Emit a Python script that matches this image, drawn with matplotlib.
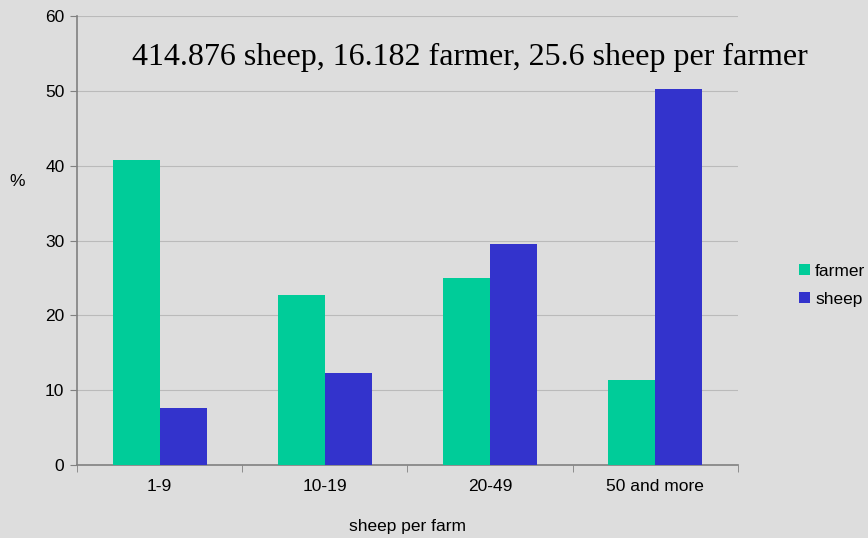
import numpy as np
import matplotlib.pyplot as plt

# data (percent)
categories = ['1-9', '10-19', '20-49', '50 and more']
farmer = [40.8, 22.7, 25.0, 11.3]
sheep = [7.6, 12.3, 29.6, 50.3]
y_ticks = [0, 10, 20, 30, 40, 50, 60]
title = '414.876 sheep, 16.182 farmer, 25.6 sheep per farmer'

bg = '#dddddd'
fig = plt.figure(figsize=(8.68, 5.38), dpi=100, facecolor=bg)
ax = fig.add_axes([0.0887, 0.1357, 0.7615, 0.8343])
ax.set_facecolor('none')

x = np.arange(len(categories)) + 0.5
w = 0.285
ax.bar(x - w / 2, farmer, w, color='#00cc99', label='farmer', zorder=3)
ax.bar(x + w / 2, sheep, w, color='#3333cc', label='sheep', zorder=3)

ax.set_xlim(0, len(categories))
ax.set_ylim(0, 60)
ax.set_yticks(y_ticks)
ax.set_xticks(x)
ax.set_xticklabels(categories)
ax.set_xticks(np.arange(len(categories) + 1), minor=True)
ax.tick_params(axis='x', which='major', length=0, pad=10)
ax.tick_params(axis='x', which='minor', length=5, color='#808080')
ax.tick_params(axis='y', length=5, color='#808080', pad=4)
ax.tick_params(labelsize=12.5)
for lab in ax.get_xticklabels() + ax.get_yticklabels():
    lab.set_family('Liberation Sans')

ax.grid(axis='y', color='#bababa', linewidth=0.8, zorder=0)
for s in ['top', 'right']:
    ax.spines[s].set_visible(False)
for s in ['left', 'bottom']:
    ax.spines[s].set_color('#808080')
    ax.spines[s].set_linewidth(1.2)

ax.set_xlabel('sheep per farm', fontsize=12.5, family='Liberation Sans', labelpad=18)
ax.set_ylabel('%', fontsize=12.5, family='Liberation Sans', rotation=0)
ax.yaxis.set_label_coords(-0.09, 0.615)

ax.text(0.595, 0.907, title, transform=ax.transAxes, ha='center', va='center',
        fontsize=23, family='Liberation Serif')

leg = fig.legend(loc='center left', bbox_to_anchor=(0.921, 0.47), frameon=False,
                 prop={'family': 'Liberation Sans', 'size': 12.5},
                 handlelength=0.6, handleheight=0.6, handletextpad=0.3,
                 labelspacing=0.75, borderpad=0, borderaxespad=0)

fig.savefig('out.png', dpi=100, facecolor=bg)
